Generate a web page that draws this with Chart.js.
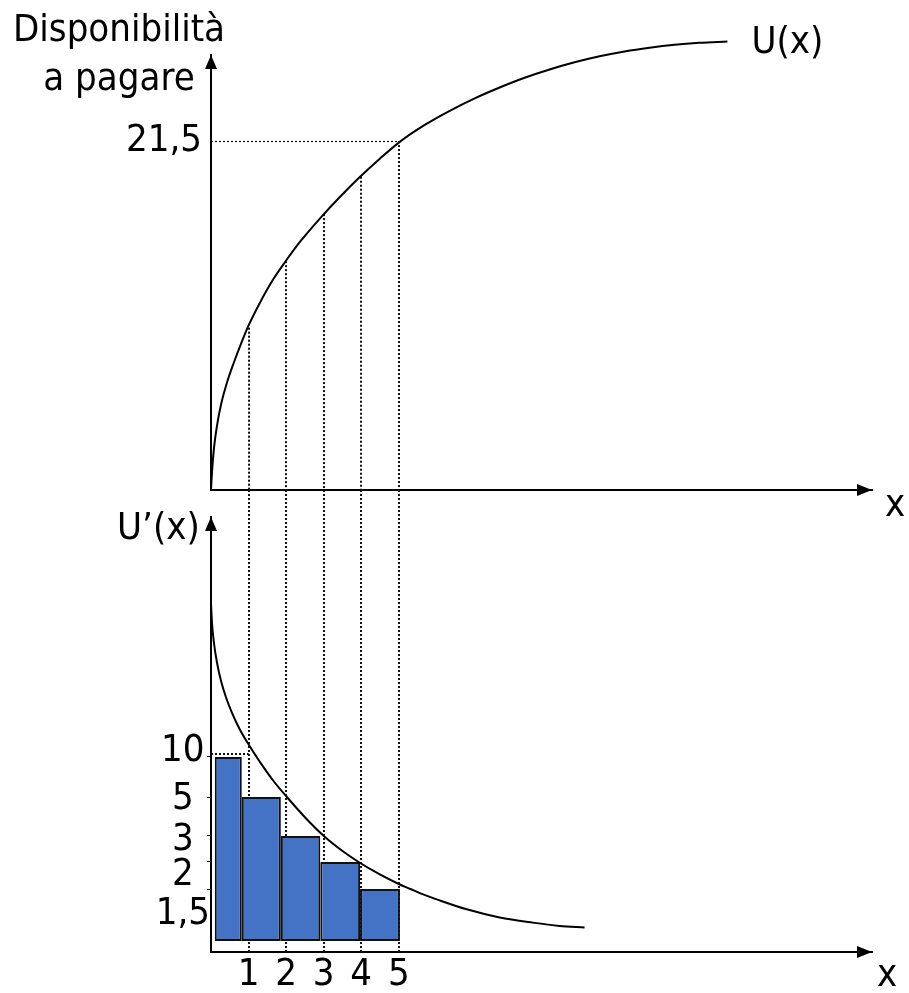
<!DOCTYPE html>
<html>
<head>
<meta charset="utf-8">
<script src="https://cdn.jsdelivr.net/npm/chart.js@4.4.1/dist/chart.umd.min.js"></script>
<style>
  html, body { margin: 0; padding: 0; background: #fff; }
  #wrap { position: relative; width: 909px; height: 993px; overflow: hidden; }
  #wrap canvas { position: absolute; left: 0; }
  #top { top: 0; }
  #bottom { top: 490px; }
</style>
</head>
<body>
<div id="wrap">
  <canvas id="top" width="909" height="530"></canvas>
  <canvas id="bottom" width="909" height="520"></canvas>
</div>
<script>
// units of the good
const units = [1, 2, 3, 4, 5];
const unitLabels = ['1', '2', '3', '4', '5'];

// U(x), total willingness to pay (upper panel)
const uX = [0, 0.027, 0.08, 0.16, 0.266, 0.426, 0.612, 0.798, 0.984, 1.303, 1.649, 1.968, 2.367, 2.952, 3.431, 3.963,
            4.495, 5.027, 5.691, 6.356, 7.021, 7.686, 8.351, 9.016, 9.681, 10.346, 11.011, 11.676, 12.34, 13.005, 13.75];
const uY = [0, 1.11, 2.59, 3.97, 5.25, 6.62, 7.87, 9.0, 10.05, 11.54, 12.95, 14.03, 15.28, 16.86, 18.05, 19.28,
            20.41, 21.45, 22.49, 23.36, 24.13, 24.8, 25.4, 25.91, 26.35, 26.72, 27.02, 27.25, 27.43, 27.55, 27.63];
const uAtUnits = [10.0, 14.1, 17.0, 19.3, 21.5];
const topTicks = [21.5];

// U'(x), marginal willingness to pay (lower panel)
const barValues = [10, 5, 3, 2, 1.5];
const barEdges = [0.1, 0.82, 1.86, 2.91, 3.97, 5.03];
const duX = [0, 0.027, 0.08, 0.16, 0.266, 0.399, 0.559, 0.771, 1.011, 1.215, 1.303, 1.649, 2.021, 2.5, 3.005, 3.484,
             3.93, 4.495, 5.0, 5.31, 5.559, 6.09, 6.809, 7.686, 8.564, 9.282, 9.947];
const duY = [29.21, 26.71, 24.21, 21.78, 19.53, 17.46, 15.51, 13.41, 11.5, 10, 9.34, 6.72, 5, 3.84, 3, 2.37,
             2, 1.76, 1.6, 1.5, 1.405, 1.22, 0.973, 0.727, 0.565, 0.46, 0.41];
const bottomTicks = [1.5, 2, 3, 5, 10];

// where each value of the U'(x) axis sits (0 = bottom of plot, 1 = top); the drawing is not to scale
const warpKnots = [[0, 0.0253], [1.5, 0.1448], [2, 0.2069], [3, 0.2667], [5, 0.3563], [10, 0.4483]];
// vertical nudge (px) of the U'(x) tick labels, as they are placed in the drawing
const labelNudge = {10: -6, 5: 2, 3: 4, 2: 13, 1.5: 25};

const family = "'DejaVu Sans Condensed', 'DejaVu Sans', sans-serif";
Chart.defaults.font.family = family;
Chart.defaults.font.size = 38;
Chart.defaults.color = '#000';
Chart.defaults.animation = false;
Chart.defaults.plugins.legend.display = false;
Chart.defaults.plugins.tooltip.enabled = false;

const fmt = v => String(v).replace('.', ',');

// smooth (monotone cubic) mapping value -> position for the U'(x) axis
const kv = warpKnots.map(k => k[0]);
const kd = warpKnots.map(k => k[1]);
const sec = kv.slice(1).map((v, i) => (kd[i + 1] - kd[i]) / (v - kv[i]));
const tan = kv.map((v, i) => {
  if (i === 0) return sec[0];
  if (i === kv.length - 1) return sec[sec.length - 1];
  const h0 = v - kv[i - 1], h1 = kv[i + 1] - v;
  const w1 = 2 * h1 + h0, w2 = h1 + 2 * h0;
  return (w1 + w2) / (w1 / sec[i - 1] + w2 / sec[i]);
});
function warp(v) {
  const n = kv.length;
  if (v <= kv[0]) return kd[0] + (v - kv[0]) * tan[0];
  if (v >= kv[n - 1]) return kd[n - 1] + (v - kv[n - 1]) * tan[n - 1];
  let i = 0;
  while (v > kv[i + 1]) i++;
  const h = kv[i + 1] - kv[i], t = (v - kv[i]) / h;
  const t2 = t * t, t3 = t2 * t;
  return (2 * t3 - 3 * t2 + 1) * kd[i] + (t3 - 2 * t2 + t) * h * tan[i] +
         (-2 * t3 + 3 * t2) * kd[i + 1] + (t3 - t2) * h * tan[i + 1];
}
function unwarp(d) {
  let lo = -10, hi = 100;
  for (let k = 0; k < 60; k++) {
    const mid = (lo + hi) / 2;
    if (warp(mid) < d) lo = mid; else hi = mid;
  }
  return (lo + hi) / 2;
}

class WarpScale extends Chart.LinearScale {
  getPixelForValue(value) {
    if (value === null || value === undefined || isNaN(value)) return NaN;
    return this.getPixelForDecimal(warp(value));
  }
  getValueForPixel(pixel) {
    return unwarp(this.getDecimalForPixel(pixel));
  }
}
WarpScale.id = 'warp';
WarpScale.defaults = Chart.LinearScale.defaults;
Chart.register(WarpScale);

function dotted(ctx, x1, y1, x2, y2, width) {
  ctx.save();
  ctx.strokeStyle = '#111';
  ctx.lineWidth = width || 2;
  ctx.setLineDash([2, 2]);
  ctx.beginPath();
  ctx.moveTo(x1, y1);
  ctx.lineTo(x2, y2);
  ctx.stroke();
  ctx.restore();
}

function arrowHead(ctx, x, y, dir) {
  ctx.save();
  ctx.fillStyle = '#000';
  ctx.beginPath();
  if (dir === 'up') {
    ctx.moveTo(x, y);
    ctx.lineTo(x - 6, y + 14);
    ctx.lineTo(x + 6, y + 14);
  } else {
    ctx.moveTo(x, y);
    ctx.lineTo(x - 15, y - 6);
    ctx.lineTo(x - 15, y + 6);
  }
  ctx.closePath();
  ctx.fill();
  ctx.restore();
}

const topDecor = {
  id: 'topDecor',
  beforeDatasetsDraw(chart) {
    const {ctx, chartArea: a, scales: {x, y}} = chart;
    units.forEach((u, i) => {
      const px = Math.round(x.getPixelForValue(u));
      dotted(ctx, px, y.getPixelForValue(uAtUnits[i]), px, a.bottom);
    });
    const ty = Math.round(y.getPixelForValue(topTicks[0])) + 0.5;
    dotted(ctx, a.left, ty, x.getPixelForValue(units[units.length - 1]), ty, 1.2);
  },
  afterDraw(chart) {
    const {ctx, chartArea: a, scales: {x, y}} = chart;
    arrowHead(ctx, a.left, a.top, 'up');
    arrowHead(ctx, a.right, a.bottom, 'right');
    ctx.save();
    ctx.font = '38px ' + family;
    ctx.fillStyle = '#000';
    ctx.textAlign = 'center';
    ctx.fillText('Disponibilità', a.left - 92, a.top - 14);
    ctx.fillText('a pagare', a.left - 92, a.top + 35);
    ctx.textAlign = 'left';
    const ex = x.getPixelForValue(uX[uX.length - 1]);
    const ey = y.getPixelForValue(uY[uY.length - 1]);
    ctx.fillText('U(x)', ex + 24, ey + 11);
    ctx.fillText('x', a.right + 13, a.bottom + 26);
    ctx.restore();
  }
};

const bottomDecor = {
  id: 'bottomDecor',
  afterDatasetsUpdate(chart) {
    // bars cover the x-intervals
    const x = chart.scales.x;
    chart.getDatasetMeta(0).data.forEach((bar, i) => {
      const l = x.getPixelForValue(barEdges[i]);
      const r = x.getPixelForValue(barEdges[i + 1]);
      bar.x = (l + r) / 2;
      bar.width = r - l;
    });
  },
  beforeDatasetsDraw(chart) {
    const {ctx, chartArea: a, scales: {x, y}} = chart;
    units.forEach(u => {
      const px = Math.round(x.getPixelForValue(u));
      dotted(ctx, px, 0, px, a.bottom);
    });
    const hy = Math.round(y.getPixelForValue(barValues[0])) - 3;
    dotted(ctx, a.left, hy, x.getPixelForValue(units[0]), hy, 2);
  },
  afterDraw(chart) {
    const {ctx, chartArea: a} = chart;
    arrowHead(ctx, a.left, a.top, 'up');
    arrowHead(ctx, a.right, a.bottom, 'right');
    ctx.save();
    ctx.font = '38px ' + family;
    ctx.fillStyle = '#000';
    ctx.fillText('U\u2019(x)', a.left - 94, a.top + 22);
    ctx.fillText('x', a.right + 5, a.bottom + 34);
    ctx.restore();
  }
};

const xRange = {min: 0, max: 17.6};

new Chart(document.getElementById('top'), {
  type: 'line',
  data: {
    datasets: [{
      data: uX.map((v, i) => ({x: v, y: uY[i]})),
      borderColor: '#000',
      borderWidth: 2,
      pointRadius: 0,
      cubicInterpolationMode: 'monotone',
      clip: false
    }]
  },
  options: {
    responsive: false,
    layout: {padding: {left: 111, right: 37, top: 55, bottom: 40}},
    scales: {
      x: {
        type: 'linear', ...xRange,
        grid: {display: false, drawTicks: false},
        ticks: {display: false},
        border: {color: '#000', width: 2},
        afterFit: s => { s.height = 0; }
      },
      y: {
        type: 'linear', min: 0, max: 26.8,
        grid: {display: false, drawTicks: false},
        border: {color: '#000', width: 2},
        ticks: {padding: 9, callback: v => fmt(v)},
        afterBuildTicks: s => { s.ticks = topTicks.map(v => ({value: v})); },
        afterFit: s => { s.width = 100; }
      }
    }
  },
  plugins: [topDecor]
});

new Chart(document.getElementById('bottom'), {
  type: 'bar',
  data: {
    datasets: [{
      type: 'bar',
      data: barValues.map((v, i) => ({x: (barEdges[i] + barEdges[i + 1]) / 2, y: v})),
      backgroundColor: '#4472C4',
      borderColor: '#111',
      borderWidth: 2,
      borderSkipped: false,
      order: 1
    }, {
      type: 'line',
      data: duX.map((v, i) => ({x: v, y: duY[i]})),
      borderColor: '#000',
      borderWidth: 2,
      pointRadius: 0,
      cubicInterpolationMode: 'monotone',
      order: 0
    }]
  },
  options: {
    responsive: false,
    layout: {padding: {left: 151, right: 37, top: 27, bottom: 0}},
    scales: {
      x: {
        type: 'linear', ...xRange,
        offset: false,
        grid: {display: false, drawTicks: false, offset: false},
        border: {color: '#000', width: 2},
        ticks: {padding: 0, autoSkip: false, maxRotation: 0, callback: (v, i) => unitLabels[i]},
        afterBuildTicks: s => { s.ticks = units.map(v => ({value: v})); },
        afterFit: s => { s.height = 58; }
      },
      y: {
        type: 'warp', min: -0.3, max: 40,
        grid: {drawOnChartArea: false, drawTicks: true, tickLength: 4, color: '#000', lineWidth: 1},
        border: {color: '#000', width: 2},
        ticks: {
          padding: -3, crossAlign: 'center', autoSkip: false,
          font: c => {
            const n = c.tick ? Math.abs(labelNudge[c.tick.value] || 0) : 0;
            return {size: 38, lineHeight: n ? (2 * n) + 'px' : 1.2};
          },
          callback: v => {
            const n = labelNudge[v] || 0;
            if (n > 0) return ['', fmt(v)];
            if (n < 0) return [fmt(v), ''];
            return fmt(v);
          }
        },
        afterBuildTicks: s => { s.ticks = bottomTicks.map(v => ({value: v})); },
        afterFit: s => { s.width = 60; }
      }
    }
  },
  plugins: [bottomDecor]
});
</script>
</body>
</html>
